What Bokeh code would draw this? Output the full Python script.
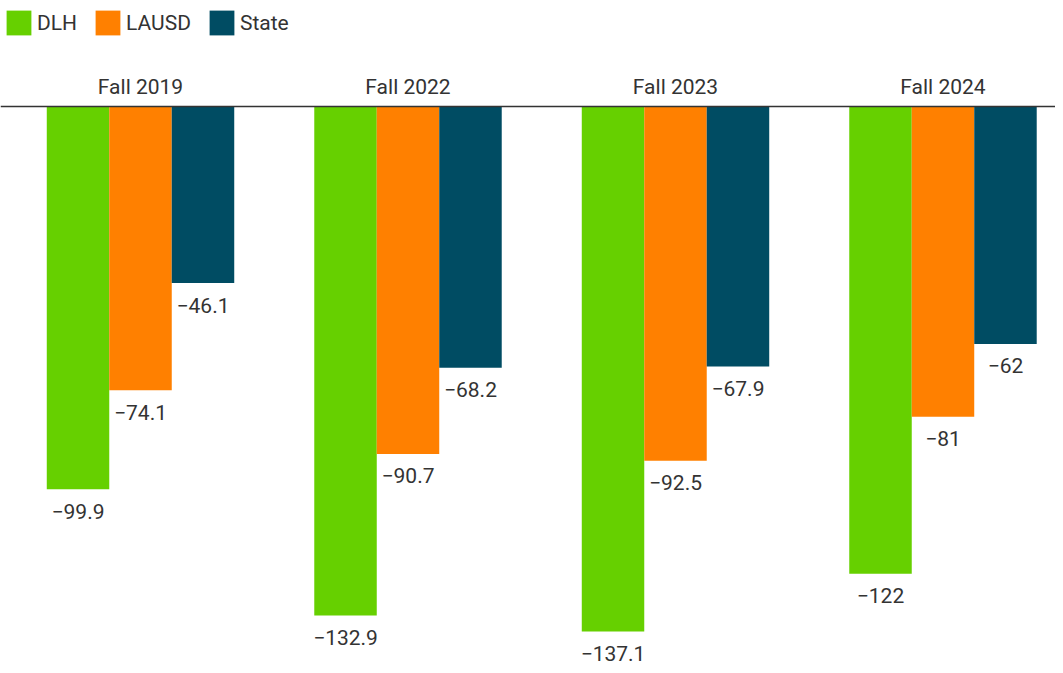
import numpy as np
from bokeh.plotting import figure
from bokeh.models import Range1d, Span, Legend, LegendItem, ColumnDataSource
from bokeh.core.properties import value
from bokeh.embed import file_html
from bokeh.resources import INLINE

categories = ["Fall 2019", "Fall 2022", "Fall 2023", "Fall 2024"]
series_names = ["DLH", "LAUSD", "State"]
dlh = [-99.9, -132.9, -137.1, -122]
lausd = [-74.1, -90.7, -92.5, -81]
state = [-46.1, -68.2, -67.9, -62]
colors = ["#66d000", "#ff8000", "#004c63"]

FONT = "Roboto"
TXT = "#333333"
FS = "21px"

W, H = 1055, 665
p = figure(width=W, height=H, output_backend="svg", toolbar_location=None,
           x_range=Range1d(-0.5234, 3.4206), y_range=Range1d(-145.95, 27.68),
           min_border=0, min_border_left=0, min_border_right=0,
           min_border_top=0, min_border_bottom=0)
p.axis.visible = False
p.grid.visible = False
p.outline_line_color = None
p.background_fill_color = "white"
p.border_fill_color = "white"

idx = np.arange(len(categories))
bw = 0.2336
offsets = [-bw, 0.0, bw]


def fmt(v):
    s = ("%.1f" % v) if v != int(v) else "%d" % v
    return s.replace("-", "\u2212")


items = []
for name, vals, off, col in zip(series_names, [dlh, lausd, state], offsets, colors):
    src = ColumnDataSource(dict(x=idx + off, top=[0] * len(vals), bottom=vals,
                                lab=[fmt(v) for v in vals]))
    r = p.vbar(x="x", top="top", bottom="bottom", width=bw, source=src,
               fill_color=col, line_color=None)
    p.text(x="x", y="bottom", text="lab", source=src, y_offset=22,
           text_align="center", text_baseline="middle",
           text_font=value(FONT), text_font_size=FS, text_color=TXT)
    items.append(LegendItem(label=name, renderers=[r]))

p.text(x=idx, y=[0] * len(categories), text=categories, y_offset=-20,
       text_align="center", text_baseline="middle",
       text_font=value(FONT), text_font_size=FS, text_color=TXT)

p.add_layout(Span(location=0, dimension="width", line_color="#333333", line_width=1.5))

legend = Legend(items=items, orientation="horizontal", location=(3, 627),
                margin=0, padding=0, spacing=15, label_standoff=3,
                glyph_width=31, glyph_height=31, label_height=31,
                label_text_font=FONT, label_text_font_size=FS,
                label_text_color=TXT, border_line_color=None,
                background_fill_alpha=0)
p.add_layout(legend, "center")

open("out.html", "w").write(file_html(p, INLINE))
